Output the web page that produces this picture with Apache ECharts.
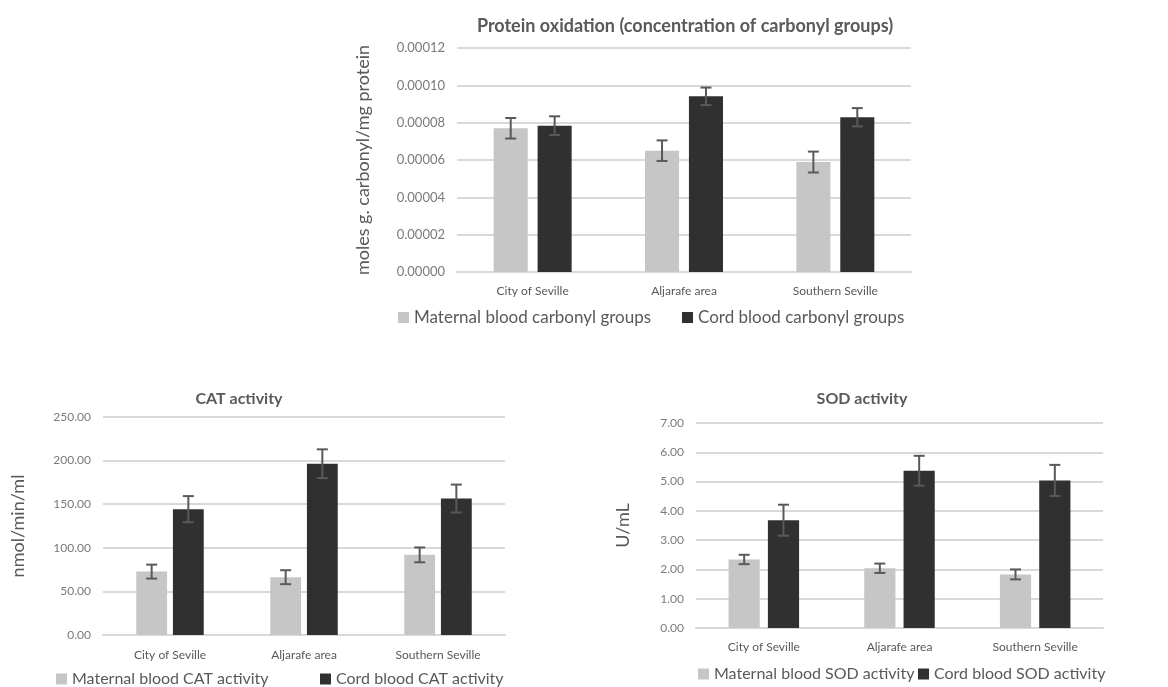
<!DOCTYPE html>
<html>
<head>
<meta charset="utf-8">
<script src="https://cdn.jsdelivr.net/npm/echarts@6/dist/echarts.min.js"></script>
<style>
  html, body { margin: 0; padding: 0; background: #fff; }
  #main { width: 1168px; height: 687px; }
</style>
</head>
<body>
<div id="main"></div>
<script>
// data
var categories = ['City of Seville', 'Aljarafe area', 'Southern Seville'];

var carbonylMaternal = [0.0000770, 0.0000650, 0.0000589];
var carbonylMaternalErr = [0.0000055, 0.0000055, 0.0000056];
var carbonylCord = [0.0000784, 0.0000941, 0.0000829];
var carbonylCordErr = [0.0000050, 0.0000047, 0.0000049];

var catMaternal = [72.7, 66.3, 91.9];
var catMaternalErr = [8, 8, 8.5];
var catCord = [144.3, 196.4, 156.5];
var catCordErr = [15, 16.5, 16];

var sodMaternal = [2.34, 2.04, 1.83];
var sodMaternalErr = [0.16, 0.16, 0.17];
var sodCord = [3.68, 5.37, 5.04];
var sodCordErr = [0.53, 0.51, 0.53];

var FONT = 'Lato, "Liberation Sans", sans-serif';
var LIGHT = '#c6c6c6';
var DARK = '#303030';
var GRID_LINE = '#d9d9d9';
var TEXT = '#595959';

var myChart = echarts.init(document.getElementById('main'));

// error bar drawn on top of a bar; side -1 = left bar, +1 = right bar
function errorSeries(name, idx, values, errs, side, widthFrac, gapFrac) {
  return {
    name: name,
    type: 'custom',
    xAxisIndex: idx,
    yAxisIndex: idx,
    z: 10,
    silent: true,
    data: values.map(function (v, i) { return [i, v, errs[i]]; }),
    renderItem: function (params, api) {
      var i = api.value(0), v = api.value(1), e = api.value(2);
      var band = api.size([1, 0])[0];
      var barW = band * widthFrac;
      var off = side * barW * (1 + gapFrac) / 2;
      var hi = api.coord([i, v + e]);
      var lo = api.coord([i, v - e]);
      var x = hi[0] + off;
      var cap = 5.5;
      var style = { stroke: '#595959', lineWidth: 2 };
      return {
        type: 'group',
        children: [
          { type: 'line', shape: { x1: x, y1: hi[1], x2: x, y2: lo[1] }, style: style },
          { type: 'line', shape: { x1: x - cap, y1: hi[1], x2: x + cap, y2: hi[1] }, style: style },
          { type: 'line', shape: { x1: x - cap, y1: lo[1], x2: x + cap, y2: lo[1] }, style: style }
        ]
      };
    }
  };
}

function barSeries(name, idx, values, color, widthFrac, gapFrac) {
  return {
    name: name,
    type: 'bar',
    xAxisIndex: idx,
    yAxisIndex: idx,
    data: values,
    barWidth: (widthFrac * 100) + '%',
    barGap: (gapFrac * 100) + '%',
    itemStyle: { color: color },
    emphasis: { disabled: true }
  };
}

function xAxis(idx, margin) {
  return {
    type: 'category',
    gridIndex: idx,
    data: categories,
    axisTick: { show: false },
    axisLine: { lineStyle: { color: GRID_LINE, width: 2 } },
    axisLabel: { color: TEXT, fontSize: 12, fontFamily: FONT, margin: margin }
  };
}

function yAxis(idx, max, step, digits, name, gap, labelSize) {
  return {
    type: 'value',
    gridIndex: idx,
    min: 0,
    max: max,
    interval: step,
    name: name,
    nameLocation: 'middle',
    nameGap: gap,
    nameTextStyle: { color: TEXT, fontSize: 18, fontFamily: FONT },
    axisLine: { show: false },
    axisTick: { show: false },
    splitLine: { lineStyle: { color: GRID_LINE, width: 2 } },
    axisLabel: {
      color: '#7a7a7a', fontSize: labelSize, fontFamily: FONT, margin: 12,
      formatter: function (v) { return v.toFixed(digits); }
    }
  };
}

function legend(names, left, top, size) {
  return {
    data: [names],
    left: left,
    top: top,
    icon: 'rect',
    itemWidth: 11,
    itemHeight: 11,
    itemGap: 6,
    textStyle: { color: TEXT, fontSize: size, fontFamily: FONT }
  };
}

function titleStyle(size) {
  return { color: TEXT, fontSize: size, fontWeight: 'bold', fontFamily: FONT };
}

myChart.setOption({
  animation: false,
  backgroundColor: '#fff',
  title: [
    { text: 'Protein oxidation (concentration of carbonyl groups)', left: 680, top: 12, textAlign: 'center', textStyle: titleStyle(18) },
    { text: 'CAT activity', left: 234, top: 386, textAlign: 'center', textStyle: titleStyle(16) },
    { text: 'SOD activity', left: 857, top: 386, textAlign: 'center', textStyle: titleStyle(16) }
  ],
  legend: [
    legend('Maternal blood carbonyl groups', 393, 304, 17),
    legend('Cord blood carbonyl groups', 677, 304, 17),
    legend('Maternal blood CAT activity', 51, 666, 16),
    legend('Cord blood CAT activity', 315, 666, 16),
    legend('Maternal blood SOD activity', 693, 661, 16),
    legend('Cord blood SOD activity', 913, 661, 16)
  ],
  grid: [
    { left: 457, right: 257, top: 48, bottom: 415 },
    { left: 103, right: 663, top: 417, bottom: 52 },
    { left: 696, right: 65, top: 423, bottom: 59 }
  ],
  xAxis: [xAxis(0, 13), xAxis(1, 14), xAxis(2, 13)],
  yAxis: [
    yAxis(0, 0.00012, 0.00002, 5, 'moles g. carbonyl/mg protein', 85, 13),
    yAxis(1, 250, 50, 2, 'nmol/min/ml', 76, 12),
    yAxis(2, 7, 1, 2, 'U/mL', 64, 12)
  ],
  series: [
    barSeries('Maternal blood carbonyl groups', 0, carbonylMaternal, LIGHT, 0.225, 0.29),
    barSeries('Cord blood carbonyl groups', 0, carbonylCord, DARK, 0.225, 0.29),
    errorSeries('err1', 0, carbonylMaternal, carbonylMaternalErr, -1, 0.225, 0.29),
    errorSeries('err2', 0, carbonylCord, carbonylCordErr, 1, 0.225, 0.29),

    barSeries('Maternal blood CAT activity', 1, catMaternal, LIGHT, 0.23, 0.19),
    barSeries('Cord blood CAT activity', 1, catCord, DARK, 0.23, 0.19),
    errorSeries('err3', 1, catMaternal, catMaternalErr, -1, 0.23, 0.19),
    errorSeries('err4', 1, catCord, catCordErr, 1, 0.23, 0.19),

    barSeries('Maternal blood SOD activity', 2, sodMaternal, LIGHT, 0.23, 0.26),
    barSeries('Cord blood SOD activity', 2, sodCord, DARK, 0.23, 0.26),
    errorSeries('err5', 2, sodMaternal, sodMaternalErr, -1, 0.23, 0.26),
    errorSeries('err6', 2, sodCord, sodCordErr, 1, 0.23, 0.26)
  ]
});
</script>
</body>
</html>
